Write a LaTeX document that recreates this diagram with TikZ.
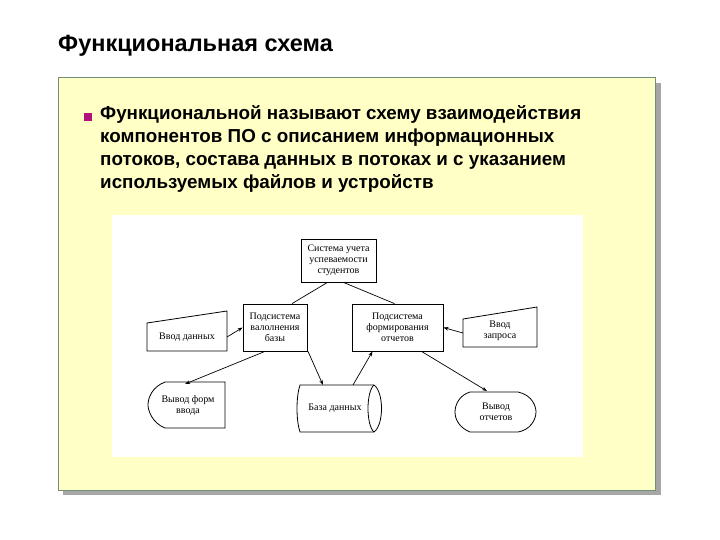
\documentclass[tikz,border=0pt]{standalone}
\usepackage{fontspec}
\setmainfont{Liberation Sans}
\newfontfamily\dserif{Liberation Serif}
\usetikzlibrary{arrows.meta}
\definecolor{pale}{HTML}{FFFFC6}
\definecolor{frm}{HTML}{6E8F7A}
\definecolor{bul}{HTML}{B0107A}
\begin{document}
\begin{tikzpicture}[x=1pt,y=-1pt,
  lbl/.style={font=\dserif\fontsize{10}{11}\selectfont,align=center,inner sep=1pt},
  shp/.style={draw,line width=0.8pt},
  con/.style={line width=0.7pt},
  arr/.style={con,-{Stealth[length=5pt,width=3.5pt]}}]
\useasboundingbox (0,0) rectangle (720,540);
\fill[white] (0,0) rectangle (720,540);
\node[anchor=west,font=\bfseries\fontsize{23.5}{26}\selectfont,inner sep=0pt] (title) at (58,46) {Функциональная схема};
\fill[gray!70] (63,83) rectangle (661,495);
\fill[pale] (58,78) rectangle (655,490);
\draw[frm,line width=1pt] (58,78) rectangle (655,490);
\fill[bul] (84,113) rectangle (92,121);
\node[anchor=north west,align=left,font=\bfseries\fontsize{18.8}{23}\selectfont,inner sep=0pt] (body) at (100,105)
{Функциональной называют схему взаимодействия\\компонентов ПО с описанием информационных\\потоков, состава данных в потоках и с указанием\\используемых файлов и устройств};
\fill[white] (112,215) rectangle (583,457);
% boxes
\node[shp,lbl,minimum width=75pt,minimum height=43pt] (top) at (338.5,260.5) {Система учета\\успеваемости\\студентов};
\node[shp,lbl,minimum width=64pt,minimum height=47pt] (ls) at (275,327.5) {Подсистема\\валолнения\\базы};
\node[shp,lbl,minimum width=91pt,minimum height=47pt] (rs) at (397.5,327.5) {Подсистема\\формирования\\отчетов};
% trapezoids
\draw[shp] (147,323) -- (227,311) -- (227,351) -- (147,351) -- cycle;
\node[lbl] (vd) at (187,337) {Ввод данных};
\draw[shp] (463,319) -- (537,307) -- (537,347) -- (463,347) -- cycle;
\node[lbl] (vz) at (500,331) {Ввод\\запроса};
% display shapes
\draw[shp] (165,382) -- (225,382) -- (225,428) -- (165,428) .. controls (152,423) and (148,410) .. (148,405) .. controls (148,398) and (152,387) .. (165,382) -- cycle;
\node[lbl] (vf) at (188,405) {Вывод форм\\ввода};
\draw[shp] (470,392) -- (518,392) .. controls (532,395) and (536,406) .. (536,412) .. controls (536,420) and (530,430) .. (518,432) -- (470,432) .. controls (460,428) and (455,420) .. (455,412) .. controls (455,404) and (460,395) .. (470,392) -- cycle;
\node[lbl] (vo) at (496,412) {Вывод\\отчетов};
% cylinder
\draw[shp] (300,385) -- (374,385) .. controls (384,392) and (384,425) .. (374,432) -- (300,432) .. controls (296,420) and (296,397) .. (300,385) -- cycle;
\draw[shp] (374,385) .. controls (366,392) and (366,425) .. (374,432);
\node[lbl] (db) at (335,408) {База данных};
\coordinate (dbt) at (323,385);
\coordinate (dbt2) at (353,385);
\coordinate (vfr) at (185,384);
\coordinate (vot) at (487,391);
% connectors
\draw[con] ([xshift=-11pt]top.south) -- ([xshift=17pt]ls.north);
\draw[con] ([xshift=5pt]top.south) -- ([xshift=-3pt]rs.north);
\draw[arr] (227,337) -- (ls.west);
\draw[arr] (463,333) -- (rs.east);
\draw[arr] ([xshift=-10pt]ls.south) -- (vfr);
\draw[arr] ([xshift=33pt]ls.south) -- (dbt);
\draw[arr] (dbt2) -- ([xshift=-25pt]rs.south);
\draw[arr] ([xshift=24pt]rs.south) -- (vot);
\end{tikzpicture}
\end{document}
